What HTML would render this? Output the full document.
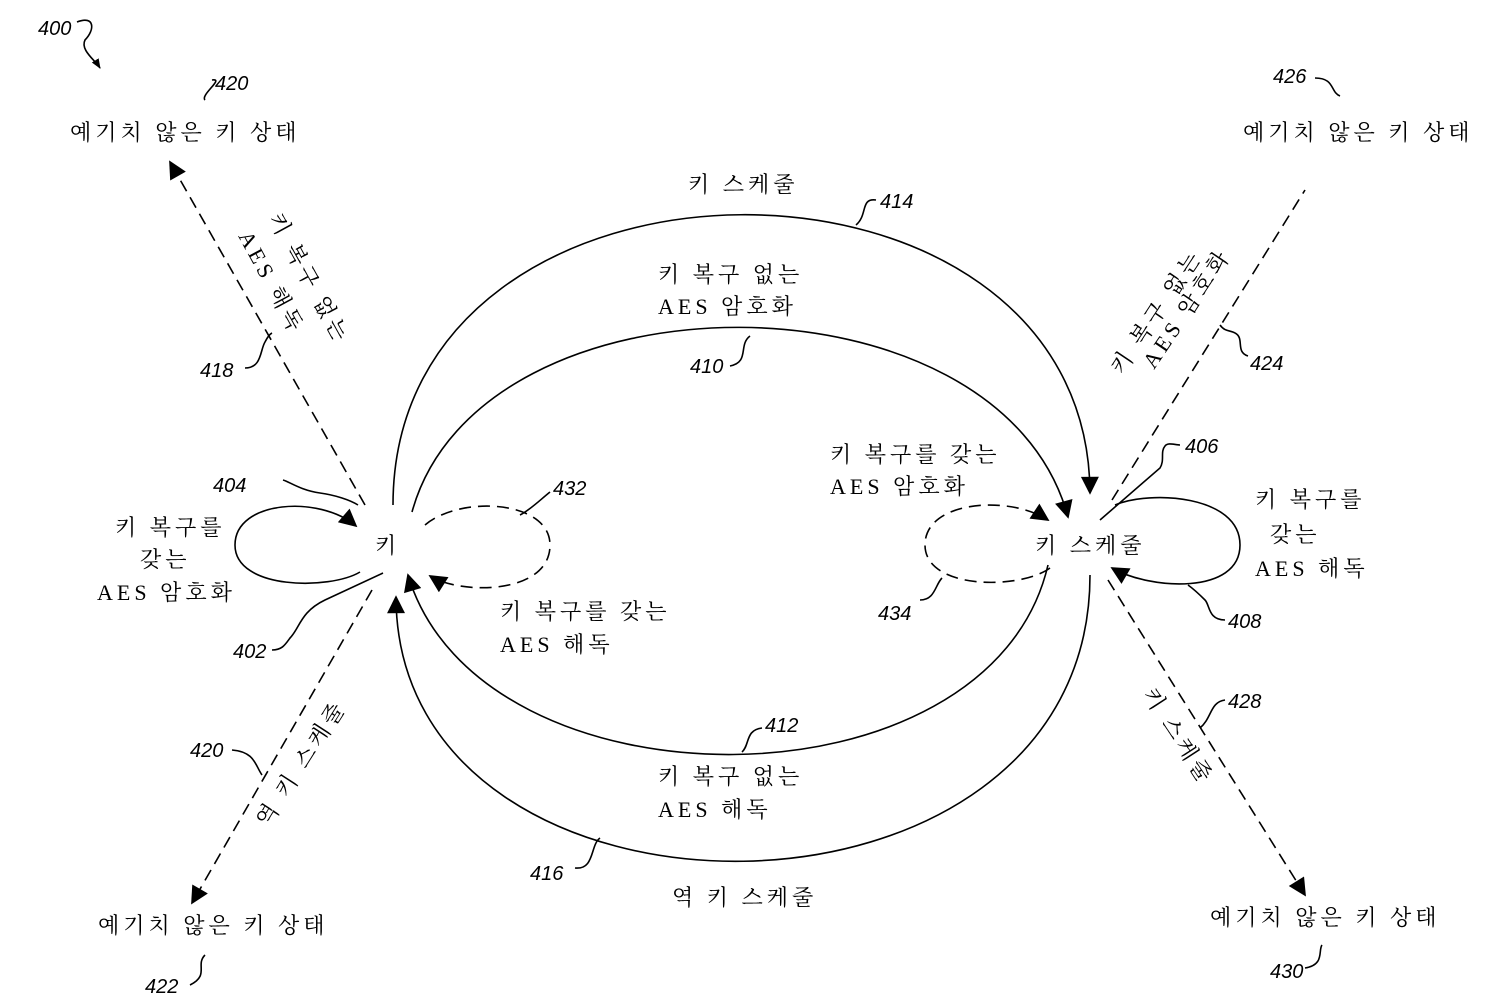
<!DOCTYPE html>
<html><head><meta charset="utf-8"><style>
html,body{margin:0;padding:0;background:#fff}
svg{display:block}
text{font-family:"Liberation Serif","Noto Serif CJK SC","Noto Sans CJK KR",serif;font-size:22px;fill:#000;letter-spacing:4px}
.n{font-family:"Liberation Sans",sans-serif;font-style:italic;font-size:20px;letter-spacing:0}
</style></head><body>
<svg width="1500" height="1005" viewBox="0 0 1500 1005" xmlns="http://www.w3.org/2000/svg">
<defs>
<marker id="a" viewBox="0 0 10 10" refX="9" refY="5" markerWidth="10" markerHeight="10" markerUnits="userSpaceOnUse" orient="auto"><path d="M0,1 L10,5 L0,9 Z" fill="#000"/></marker>
<marker id="b" viewBox="0 0 10 10" refX="9" refY="5" markerWidth="22" markerHeight="18" markerUnits="userSpaceOnUse" orient="auto"><path d="M0,0 L10,5 L0,10 Z" fill="#000"/></marker>
</defs>
<g fill="none" stroke="#000" stroke-width="1.6">
<path d="M393,505 C393,120 1088,120 1090,493" marker-end="url(#b)"/>
<path d="M412,512 C480,265 1000,265 1068,517" marker-end="url(#b)"/>
<path d="M1048,565 C990,816 480,816 408,575" marker-end="url(#b)"/>
<path d="M1090,575 C1090,953 397,953 396,597" marker-end="url(#b)"/>
<path d="M360,572 C330,590 235,590 235,545 C235,500 320,495 356,526" marker-end="url(#b)"/>
<path d="M1115,505 C1150,490 1240,495 1240,545 C1240,595 1150,590 1112,568" marker-end="url(#b)"/>
<g stroke-dasharray="12,7">
<path d="M425,525 C460,495 550,500 550,545 C550,595 460,595 430,576" marker-end="url(#b)"/>
<path d="M1050,568 C1020,590 925,590 925,545 C925,500 1010,495 1048,520" marker-end="url(#b)"/>
<path d="M365,505 L170,162" marker-end="url(#b)"/>
<path d="M1112,500 L1305,190"/>
<path d="M372,590 L192,903" marker-end="url(#b)"/>
<path d="M1108,580 L1305,895" marker-end="url(#b)"/>
</g>
<path d="M383,573 L325,600 C300,612 300,628 290,638 C285,645 282,650 272,650"/>
<path d="M1100,520 L1160,468 C1165,460 1160,452 1165,446 C1168,442 1175,445 1180,445"/>
<path d="M358,505 C350,500 335,495 320,493 C300,490 290,482 283,480"/>
<path d="M245,368 C262,368 260,350 265,342 C268,336 270,334 272,333"/>
<path d="M730,366 C750,362 738,345 750,336"/>
<path d="M1248,356 C1235,352 1245,338 1235,333 C1230,330 1225,332 1220,325"/>
<path d="M876,200 C860,198 868,215 856,225"/>
<path d="M520,515 C530,510 540,500 550,492"/>
<path d="M920,600 C935,600 935,585 942,578"/>
<path d="M1225,620 C1208,620 1210,605 1205,600 C1200,595 1195,590 1188,585"/>
<path d="M762,728 C745,730 750,745 742,752"/>
<path d="M575,868 C595,870 590,845 600,838"/>
<path d="M232,750 C255,752 255,765 262,775"/>
<path d="M1225,700 C1210,702 1212,718 1200,728"/>
<path d="M190,985 C210,975 195,965 205,955"/>
<path d="M1305,968 C1325,965 1318,950 1322,945"/>
<path d="M212,80 C225,78 200,95 205,100"/>
<path d="M1315,78 C1335,78 1330,92 1340,96"/>
<path d="M77,22 C95,15 95,30 85,40 C80,50 95,60 100,68" marker-end="url(#a)"/>
</g>
<text x="375" y="553">키</text>
<text x="1035" y="553">키 스케줄</text>
<text x="70" y="140">예기치 않은 키 상태</text>
<text x="1243" y="140">예기치 않은 키 상태</text>
<text x="98" y="933">예기치 않은 키 상태</text>
<text x="1210" y="925">예기치 않은 키 상태</text>
<text x="688" y="192">키 스케줄</text>
<text x="658" y="282">키 복구 없는</text>
<text x="658" y="314">AES 암호화</text>
<text x="830" y="462">키 복구를 갖는</text>
<text x="830" y="494">AES 암호화</text>
<text x="500" y="619">키 복구를 갖는</text>
<text x="500" y="652">AES 해독</text>
<text x="658" y="784">키 복구 없는</text>
<text x="658" y="817">AES 해독</text>
<text x="672" y="905">역 키 스케줄</text>
<text x="115" y="535">키 복구를</text>
<text x="140" y="567">갖는</text>
<text x="97" y="600">AES 암호화</text>
<text x="1255" y="507">키 복구를</text>
<text x="1270" y="542">갖는</text>
<text x="1255" y="576">AES 해독</text>
<g transform="translate(268,218) rotate(61.6)"><text x="0" y="0">키 복구 없는</text></g>
<g transform="translate(238,236) rotate(61.6)"><text x="0" y="0">AES 해독</text></g>
<g transform="translate(1122,376) rotate(-56)"><text x="0" y="0">키 복구 없는</text></g>
<g transform="translate(1154,370) rotate(-56)"><text x="0" y="0">AES 암호화</text></g>
<g transform="translate(268,828) rotate(-57)"><text x="0" y="0">역 키 스케줄</text></g>
<g transform="translate(1142,694) rotate(57)"><text x="0" y="0">키 스케줄</text></g>
<text class="n" x="38" y="35">400</text>
<text class="n" x="215" y="90">420</text>
<text class="n" x="1273" y="83">426</text>
<text class="n" x="880" y="208">414</text>
<text class="n" x="200" y="377">418</text>
<text class="n" x="690" y="373">410</text>
<text class="n" x="1250" y="370">424</text>
<text class="n" x="1185" y="453">406</text>
<text class="n" x="213" y="492">404</text>
<text class="n" x="553" y="495">432</text>
<text class="n" x="878" y="620">434</text>
<text class="n" x="1228" y="628">408</text>
<text class="n" x="233" y="658">402</text>
<text class="n" x="1228" y="708">428</text>
<text class="n" x="765" y="732">412</text>
<text class="n" x="190" y="757">420</text>
<text class="n" x="530" y="880">416</text>
<text class="n" x="145" y="993">422</text>
<text class="n" x="1270" y="978">430</text>
</svg>
</body></html>
